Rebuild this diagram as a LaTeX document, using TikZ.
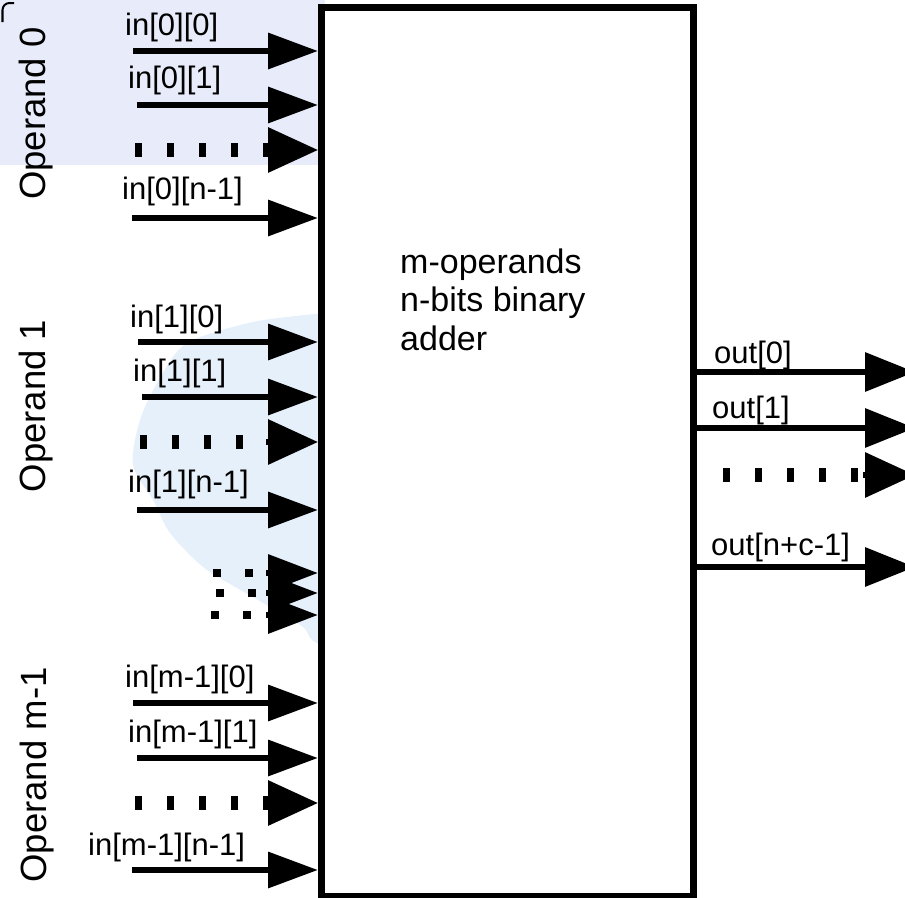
\documentclass[tikz,border=0pt]{standalone}
\usepackage{fontspec}
\setmainfont{Liberation Sans}
\usetikzlibrary{arrows.meta,calc}
\definecolor{rectfill}{RGB}{232,235,249}
\definecolor{circfill}{RGB}{229,240,251}
\begin{document}
\begin{tikzpicture}[x=1bp,y=-1bp,
  wire/.style={line width=6.5bp, -{Triangle[length=50bp,width=35bp]}},
  owire/.style={line width=6.5bp, -{Triangle[length=50bp,width=38bp]}},
  dotline/.style={line width=14bp, dash pattern=on 6.5bp off 25.5bp},
  dothead/.style={line width=6.5bp, -{Triangle[length=50bp,width=44bp]}},
  smalldot/.style={line width=8bp, dash pattern=on 8bp off 24bp},
  smallhead/.style={line width=6.5bp, -{Triangle[length=50bp,width=36bp]}},
  lbl/.style={anchor=base west, inner sep=0pt, font=\fontsize{31bp}{36bp}\selectfont},
  oplbl/.style={anchor=base, rotate=90, inner sep=0pt, font=\fontsize{36.5bp}{42bp}\selectfont},
  maintxt/.style={anchor=base west, inner sep=0pt, font=\fontsize{34bp}{39bp}\selectfont},
  boxst/.style={draw, line width=7bp, fill=white, inner sep=0pt, minimum width=372bp, minimum height=888.5bp}
]
\useasboundingbox (0,0) rectangle (905,898);
% background shapes
\fill[rectfill] (-10,-10) rectangle (325,165);
\draw[line width=2bp, black] (2.5,22) -- (2.5,10) arc[start angle=180, end angle=270, radius=7] -- (14,3);
\fill[circfill] plot[smooth cycle] coordinates {(322,313) (253,322) (187,343) (160,378) (140,420) (133,465) (153,500) (170,533) (203,567) (237,588) (270,607) (303,627) (322,645) (420,660) (460,480) (420,300)};
% main box
\node[boxst] (box) at (507.5,451.75) {};
\node[maintxt] (t1) at (400,273) {m-operands};
\node[maintxt] (t2) at (400,311) {n-bits binary};
\node[maintxt] (t3) at (400,350) {adder};
% operand labels
\node[oplbl] (op0) at (45,113.5) {Operand 0};
\node[oplbl] (op1) at (45,406) {Operand 1};
\node[oplbl] (opm) at (46,775) {Operand m-1};
% operand 0
\coordinate (s00) at (133,51);
\coordinate (s01) at (137,105);
\coordinate (s0d) at (135,150);
\coordinate (s0n) at (132,218);
\draw[wire] (s00) -- (s00 -| box.west);
\draw[wire] (s01) -- (s01 -| box.west);
\draw[dotline] (s0d) -- ($(s0d -| box.west)+(-40,0)$);
\draw[dothead] ($(s0d -| box.west)+(-52,0)$) -- (s0d -| box.west);
\draw[wire] (s0n) -- (s0n -| box.west);
\node[lbl] (l00) at (125,35) {in[0][0]};
\node[lbl] (l01) at (128,88.5) {in[0][1]};
\node[lbl] (l0n) at (122,199) {in[0][n-1]};
% operand 1
\coordinate (s10) at (138,342);
\coordinate (s11) at (142,397);
\coordinate (s1d) at (140,442);
\coordinate (s1n) at (137,510);
\draw[wire] (s10) -- (s10 -| box.west);
\draw[wire] (s11) -- (s11 -| box.west);
\draw[dotline] (s1d) -- ($(s1d -| box.west)+(-40,0)$);
\draw[dothead] ($(s1d -| box.west)+(-52,0)$) -- (s1d -| box.west);
\draw[wire] (s1n) -- (s1n -| box.west);
\node[lbl] (l10) at (130,327) {in[1][0]};
\node[lbl] (l11) at (133,381) {in[1][1]};
\node[lbl] (l1n) at (128,492) {in[1][n-1]};
% vertical dots
\coordinate (va) at (213,573);
\coordinate (vb) at (216,593);
\coordinate (vc) at (211,615);
\draw[smalldot] (va) -- ($(va -| box.west)+(-62,0)$);
\draw[smalldot] (vb) -- ($(vb -| box.west)+(-62,0)$);
\draw[smalldot] (vc) -- ($(vc -| box.west)+(-62,0)$);
\draw[smallhead] ($(va -| box.west)+(-52,0)$) -- (va -| box.west);
\draw[smallhead] ($(vb -| box.west)+(-52,0)$) -- (vb -| box.west);
\draw[smallhead] ($(vc -| box.west)+(-52,0)$) -- (vc -| box.west);
% operand m-1
\coordinate (sm0) at (133,703);
\coordinate (sm1) at (137,758);
\coordinate (smd) at (135,803);
\coordinate (smn) at (132,870);
\draw[wire] (sm0) -- (sm0 -| box.west);
\draw[wire] (sm1) -- (sm1 -| box.west);
\draw[dotline] (smd) -- ($(smd -| box.west)+(-40,0)$);
\draw[dothead] ($(smd -| box.west)+(-52,0)$) -- (smd -| box.west);
\draw[wire] (smn) -- (smn -| box.west);
\node[lbl] (lm0) at (125,687) {in[m-1][0]};
\node[lbl] (lm1) at (128,742) {in[m-1][1]};
\node[lbl] (lmn) at (88,855) {in[m-1][n-1]};
% outputs
\coordinate (e0) at (915,372);
\coordinate (e1) at (915,428);
\coordinate (ed) at (915,475);
\coordinate (sd) at (723,475);
\coordinate (en) at (915,567);
\draw[owire] (box.east |- e0) -- (e0);
\draw[owire] (box.east |- e1) -- (e1);
\draw[dotline] (sd) -- ($(ed)+(-40,0)$);
\draw[dothead] ($(ed)+(-52,0)$) -- (ed);
\draw[owire] (box.east |- en) -- (en);
\node[lbl] (lo0) at (714,363) {out[0]};
\node[lbl] (lo1) at (712,418) {out[1]};
\node[lbl] (lon) at (711,555) {out[n+c-1]};
\end{tikzpicture}
\end{document}
